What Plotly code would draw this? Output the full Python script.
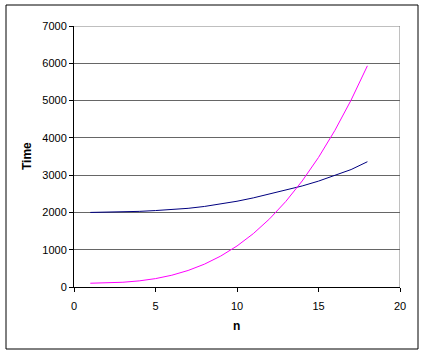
import plotly.graph_objects as go

n_values = list(range(1, 19))
navy_series = [2000, 2005, 2012, 2028, 2050, 2080, 2110, 2160, 2225, 2300, 2390, 2490, 2595, 2710, 2840, 2985, 3150, 3360]
magenta_series = [101, 108, 127, 164, 225, 316, 443, 612, 829, 1100, 1431, 1828, 2297, 2844, 3475, 4196, 5013, 5932]
x_ticks = [0, 5, 10, 15, 20]
y_ticks = [0, 1000, 2000, 3000, 4000, 5000, 6000, 7000]
x_title = "n"
y_title = "Time"

W, H = 425, 355
L, R, T, B = 74, 400, 26, 287

font = "Liberation Sans, Arial, sans-serif"

fig = go.Figure()
fig.add_trace(go.Scatter(x=n_values, y=navy_series, mode="lines",
                         line=dict(color="#000080", width=1), name="quadratic"))
fig.add_trace(go.Scatter(x=n_values, y=magenta_series, mode="lines",
                         line=dict(color="#FF00FF", width=1), name="cubic"))

fig.update_layout(
    width=W, height=H,
    margin=dict(l=0, r=0, t=0, b=0),
    paper_bgcolor="white", plot_bgcolor="white",
    showlegend=False,
    font=dict(family=font, size=11, color="black"),
    xaxis=dict(domain=[L / W, R / W], range=[0, 20], tickvals=x_ticks,
               showgrid=False, zeroline=False, showline=True, linecolor="black", linewidth=1,
               ticks="outside", ticklen=4, tickcolor="black", automargin=False,
               ticklabelstandoff=5, tickfont=dict(size=11)),
    yaxis=dict(domain=[1 - B / H, 1 - T / H], range=[0, 7000], tickvals=y_ticks,
               showgrid=True, gridcolor="#666666", gridwidth=1, zeroline=False,
               showline=True, linecolor="black", linewidth=1,
               ticks="outside", ticklen=4, tickcolor="black", automargin=False,
               tickfont=dict(size=11)),
    shapes=[
        dict(type="rect", xref="paper", yref="paper",
             x0=6 / W, x1=418 / W, y0=1 - 349 / H, y1=1 - 5 / H,
             line=dict(color="black", width=1), layer="below"),
        dict(type="line", xref="x", yref="y", x0=0, x1=20, y0=7000, y1=7000,
             line=dict(color="#808080", width=1), layer="below"),
        dict(type="line", xref="x", yref="y", x0=20, x1=20, y0=0, y1=7000,
             line=dict(color="#808080", width=1), layer="below"),
    ],
    annotations=[
        dict(text="<b>" + x_title + "</b>", xref="paper", yref="paper",
             x=236 / W, y=1 - 326 / H, showarrow=False,
             font=dict(size=12), xanchor="center", yanchor="middle"),
        dict(text="<b>" + y_title + "</b>", xref="paper", yref="paper",
             x=27 / W, y=1 - 156 / H, showarrow=False,
             font=dict(size=12), textangle=-90, xanchor="center", yanchor="middle"),
    ],
)

fig.write_html("out.html")
